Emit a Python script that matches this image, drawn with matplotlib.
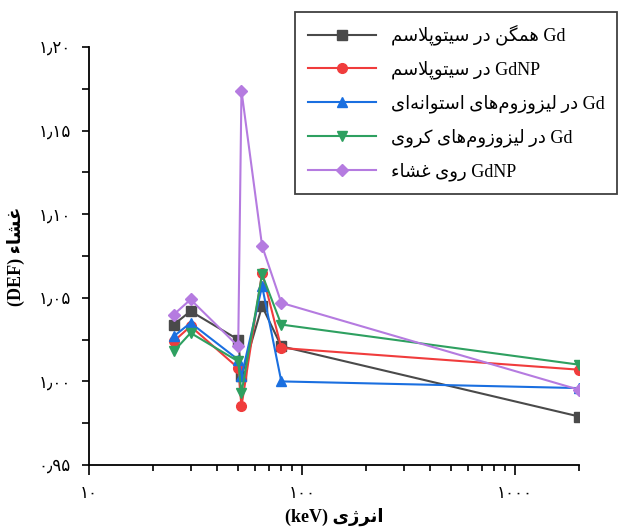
import matplotlib
matplotlib.use('Agg')
import matplotlib.pyplot as plt

# ---------------------------- data ----------------------------
energy = [25, 30, 50.2, 52, 65, 80, 2000]
gd_cyto = [1.034, 1.042, 1.025, 1.003, 1.045, 1.021, 0.979]
gdnp_cyto = [1.024, 1.033, 1.008, 0.985, 1.065, 1.020, 1.007]
gd_cyl = [1.027, 1.035, 1.013, 1.003, 1.057, 1.000, 0.996]
gd_sph = [1.018, 1.029, 1.012, 0.993, 1.064, 1.034, 1.010]
gdnp_memb = [1.040, 1.049, 1.021, 1.174, 1.081, 1.047, 0.995]

x_ticks = [10, 100, 1000]
x_ticklabels = ['۱۰', '۱۰۰', '۱۰۰۰']
y_ticks = [0.95, 1.00, 1.05, 1.10, 1.15, 1.20]
y_ticklabels = ['۰٫۹۵', '۱٫۰۰', '۱٫۰۵', '۱٫۱۰', '۱٫۱۵', '۱٫۲۰']

# ------------------ простий шейпінг перської ------------------
DUAL = {'ب': 0xFE8F, 'پ': 0xFB56, 'ت': 0xFE95, 'س': 0xFEB1, 'ش': 0xFEB5,
        'غ': 0xFECD, 'ک': 0xFB8E, 'گ': 0xFB92, 'ل': 0xFEDD, 'م': 0xFEE1,
        'ن': 0xFEE5, 'ه': 0xFEE9, 'ی': 0xFBFC, 'ئ': 0xFE89}
RIGHT = {'ا': 0xFE8D, 'د': 0xFEA9, 'ر': 0xFEAD, 'ز': 0xFEAF, 'ژ': 0xFB8A,
         'و': 0xFEED}


def fa(text):
    out = []
    prev = None
    i = 0
    while i < len(text):
        c = text[i]
        nxt = text[i + 1] if i + 1 < len(text) else ''
        link_prev = prev in DUAL
        if c == 'ل' and nxt == 'ا':
            out.append('\uFEFC' if link_prev else '\uFEFB')
            prev = 'ا'
            i += 2
            continue
        if c in DUAL:
            link_next = nxt in DUAL or nxt in RIGHT
            out.append(chr(DUAL[c] + (1 if link_prev else 0) + (2 if link_next else 0)))
        elif c in RIGHT:
            out.append(chr(RIGHT[c] + (1 if link_prev else 0)))
        elif c != '\u200c':
            out.append(c)
        prev = c
        i += 1
    return ''.join(reversed(out))


labels = [fa('همگن در سیتوپلاسم') + ' Gd',
          fa('در سیتوپلاسم') + ' GdNP',
          fa('در لیزوزوم\u200cهای استوانه\u200cای') + ' Gd',
          fa('در لیزوزوم\u200cهای کروی') + ' Gd',
          fa('روی غشاء') + ' GdNP']

plt.rcParams['font.family'] = ['Liberation Serif', 'DejaVu Sans']

fig = plt.figure(figsize=(6.22, 5.29), dpi=100)
ax = fig.add_axes([0.143, 0.121, 0.788, 0.790])

series = [gd_cyto, gdnp_cyto, gd_cyl, gd_sph, gdnp_memb]
colors = ['#4a4a4a', '#f03c3c', '#1a6fe0', '#2ea060', '#b57be0']
markers = ['s', 'o', '^', 'v', 'D']
for ys, col, mk, lab in zip(series, colors, markers, labels):
    ax.plot(energy, ys, color=col, marker=mk, markersize=7 if mk != 'D' else 6.5,
            linewidth=1.5, label=lab)

ax.set_xscale('log')
ax.set_xlim(10, 2000)
ax.set_ylim(0.95, 1.20)
ax.set_xticks(x_ticks)
ax.set_xticklabels(x_ticklabels, fontsize=12)
ax.set_yticks(y_ticks)
ax.set_yticklabels(y_ticklabels, fontsize=12)
ax.set_yticks([0.975, 1.025, 1.075, 1.125, 1.175], minor=True)
ax.tick_params(axis='x', which='major', length=7, width=1.2, pad=8)
ax.tick_params(axis='x', which='minor', length=4, width=1.2)
ax.tick_params(axis='y', which='both', length=5, width=1.2, pad=8)
ax.xaxis.set_minor_formatter(matplotlib.ticker.NullFormatter())

ax.spines['top'].set_visible(False)
ax.spines['right'].set_visible(False)
ax.spines['left'].set_linewidth(1.3)
ax.spines['bottom'].set_linewidth(1.3)

ax.set_xlabel('(keV) ' + fa('انرژی'), fontsize=13, fontweight='bold', labelpad=4)
ax.set_ylabel('(DEF) ' + fa('غشاء'), fontsize=13, fontweight='bold', labelpad=10)

leg = fig.legend(loc='upper right', bbox_to_anchor=(0.992, 0.977), borderaxespad=0,
                 fontsize=13, fancybox=False, framealpha=1, edgecolor='#404040',
                 handlelength=3.8, labelspacing=0.85, borderpad=0.7)
leg.get_frame().set_linewidth(1.3)

fig.savefig('out.png', dpi=100)
